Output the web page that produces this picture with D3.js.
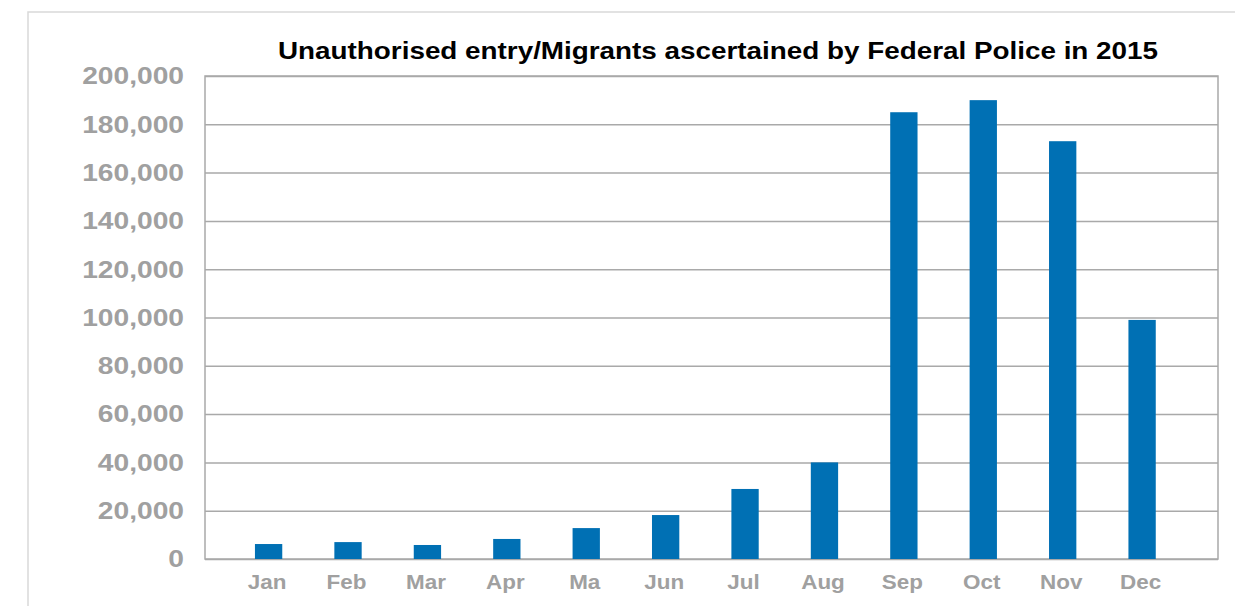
<!DOCTYPE html>
<html>
<head>
<meta charset="utf-8">
<script src="https://cdn.jsdelivr.net/npm/d3@7"></script>
<style>
  html, body { margin: 0; padding: 0; background: #fff; }
  svg { display: block; }
</style>
</head>
<body>
<svg id="chart" width="1235" height="606"></svg>
<script>
// Monthly counts of unauthorised entries / migrants ascertained, 2015
const months = ["Jan", "Feb", "Mar", "Apr", "Ma", "Jun", "Jul", "Aug", "Sep", "Oct", "Nov", "Dec"];
const migrants = [6200, 7000, 5800, 8300, 12800, 18200, 29000, 40000, 185000, 190000, 173000, 99000];
const yTicks = [0, 20000, 40000, 60000, 80000, 100000, 120000, 140000, 160000, 180000, 200000];
const chartTitle = "Unauthorised entry/Migrants ascertained by Federal Police in 2015";

const svg = d3.select("#chart");
const W = 1235, H = 606;
const plot = { left: 205, right: 1218, top: 76, bottom: 559 };
const FONT = "'Liberation Sans', Arial, Helvetica, sans-serif";
const WIDEN = 1.15; // lettering is set a little wider than the base face

// stretch each text element horizontally by WIDEN
function widen(sel) {
  sel.each(function () {
    const len = this.getComputedTextLength();
    d3.select(this)
      .attr("textLength", len * WIDEN)
      .attr("lengthAdjust", "spacingAndGlyphs");
  });
}

// outer frame (top and left edges visible)
svg.append("path")
  .attr("d", `M28,${H + 2} L28,12 L${W + 2},12`)
  .attr("fill", "none")
  .attr("stroke", "#d9d9d9")
  .attr("stroke-width", 1.5);

const y = d3.scaleLinear().domain([0, 200000]).range([plot.bottom, plot.top]);
const x = d3.scaleBand()
  .domain(months)
  .range([228.9, 1181.8])
  .paddingInner(0.656)
  .paddingOuter(0.328);

// gridlines + y labels
const yAxis = svg.append("g")
  .attr("transform", `translate(${plot.left},0)`)
  .call(d3.axisLeft(y)
    .tickValues(yTicks)
    .tickFormat(d3.format(","))
    .tickSize(-(plot.right - plot.left))
    .tickPadding(21));
yAxis.select(".domain").remove();
yAxis.selectAll(".tick line")
  .attr("stroke", "#a9a9a9")
  .attr("stroke-width", 1.5);
yAxis.selectAll(".tick text")
  .attr("fill", "#a0a0a0")
  .style("font-family", FONT)
  .style("font-weight", "bold")
  .style("font-size", "24.5px")
  .call(widen);

// plot border
svg.append("rect")
  .attr("x", plot.left)
  .attr("y", plot.top)
  .attr("width", plot.right - plot.left)
  .attr("height", plot.bottom - plot.top)
  .attr("fill", "none")
  .attr("stroke", "#a9a9a9")
  .attr("stroke-width", 1.5);

// soft edge on the bars
const defs = svg.append("defs");
defs.append("filter").attr("id", "soft")
  .append("feGaussianBlur").attr("stdDeviation", 0.6);

svg.append("g")
  .selectAll("rect")
  .data(months.map((m, i) => ({ m, v: migrants[i] })))
  .join("rect")
  .attr("x", d => x(d.m))
  .attr("y", d => y(d.v))
  .attr("width", x.bandwidth())
  .attr("height", d => y(0) - y(d.v))
  .attr("fill", "#0070b4")
  .attr("filter", "url(#soft)");

// x labels
const xAxis = svg.append("g")
  .attr("transform", `translate(0,${plot.bottom})`)
  .call(d3.axisBottom(x).tickSize(0).tickPadding(16));
xAxis.select(".domain").remove();
xAxis.selectAll(".tick text")
  .attr("fill", "#a0a0a0")
  .attr("dx", "-1.5")
  .style("font-family", FONT)
  .style("font-weight", "bold")
  .style("font-size", "19.5px")
  .call(widen);

// title
svg.append("text")
  .attr("x", 718)
  .attr("y", 59)
  .attr("text-anchor", "middle")
  .attr("fill", "#000")
  .style("font-family", FONT)
  .style("font-weight", "bold")
  .style("font-size", "23.5px")
  .text(chartTitle)
  .attr("textLength", 880)
  .attr("lengthAdjust", "spacingAndGlyphs");
</script>
</body>
</html>
